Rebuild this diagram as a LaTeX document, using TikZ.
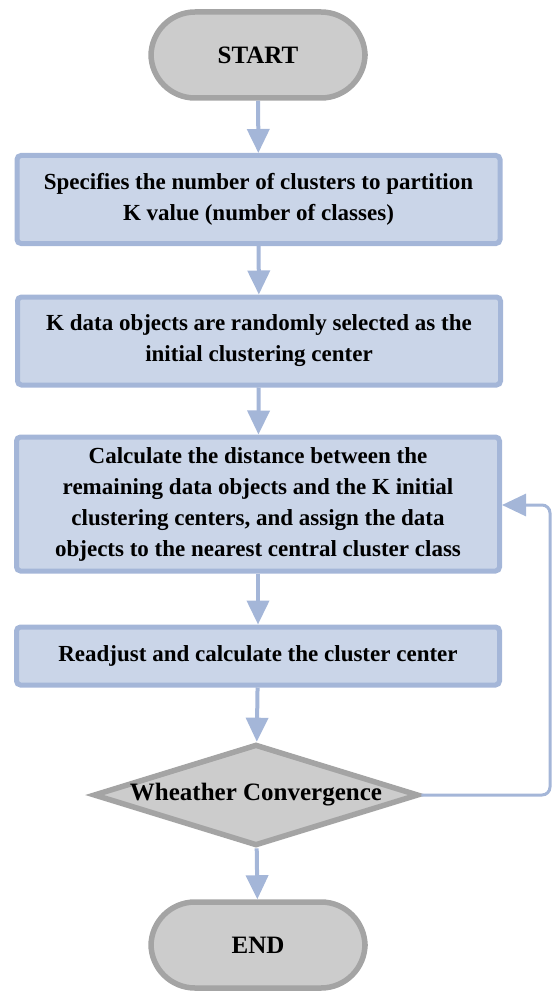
\documentclass[tikz,border=0pt]{standalone}
\usepackage{fontspec}
\setmainfont{Liberation Serif}
\usetikzlibrary{arrows.meta,shapes.geometric}
\definecolor{bfill}{HTML}{CAD5E8}
\definecolor{bline}{HTML}{A4B6D8}
\definecolor{gfill}{HTML}{CCCCCC}
\definecolor{gline}{HTML}{A4A4A4}
\begin{document}
\begin{tikzpicture}[x=1pt,y=1pt,
  font=\fontsize{23}{31}\selectfont\bfseries,
  term/.style={draw=gline,fill=gfill,line width=5.5pt,rounded corners=44pt,minimum width=214pt,minimum height=86pt,inner sep=0pt,font=\fontsize{25}{31}\selectfont\bfseries},
  procbox/.style={draw=bline,fill=bfill,line width=5pt,rounded corners=4pt,minimum width=483pt,inner sep=0pt,align=center},
  decision/.style={diamond,draw=gline,fill=gfill,line width=5.5pt,minimum width=322pt,minimum height=96pt,inner sep=0pt,aspect=3.2,font=\fontsize{25}{31}\selectfont\bfseries},
  flow/.style={draw=bline,line width=4pt,-{Triangle[width=22pt,length=24pt]}}
]
\useasboundingbox (0,0) rectangle (553,-992);
\node[term] (start) at (258,-55) {START};
\node[procbox,minimum height=88pt] (b1) at (258.5,-199.5) {Specifies the number of clusters to partition\\K value (number of classes)};
\node[procbox,minimum height=88pt] (b2) at (259,-341) {K data objects are randomly selected as the\\initial clustering center};
\node[procbox,minimum height=134pt] (b3) at (258,-504) {Calculate the distance between the\\remaining data objects and the K initial\\clustering centers, and assign the data\\objects to the nearest central cluster class};
\node[procbox,minimum height=58pt] (b4) at (258,-656) {Readjust and calculate the cluster center};
\node[decision] (dec) at (256,-795) {Wheather Convergence};
\node[term] (end) at (258,-945) {END};
\coordinate (loop) at (550,-505);
\draw[flow] (start) -- (b1);
\draw[flow] (b1) -- (b2);
\draw[flow] (b2) -- (b3);
\draw[flow] (b3) -- (b4);
\draw[flow] (b4) -- (dec);
\draw[flow] (dec) -- (end);
\draw[flow,line width=3pt,rounded corners=8pt] (dec.east) -| (loop) -- (b3.east |- loop);
\end{tikzpicture}
\end{document}
